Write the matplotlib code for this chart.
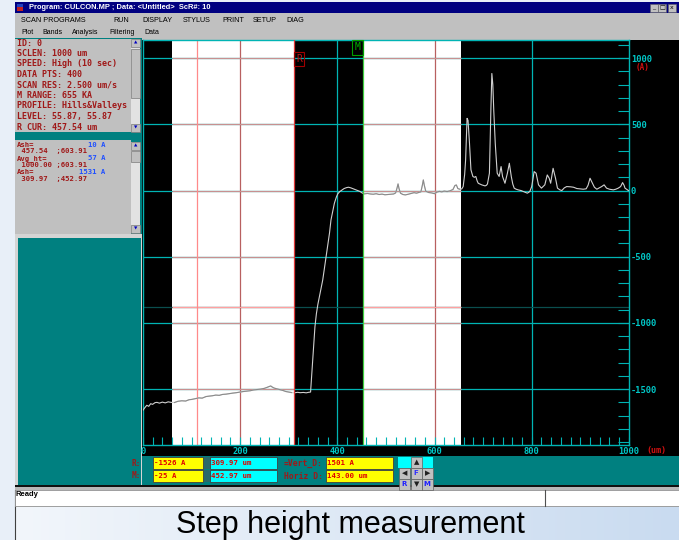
import numpy as np
import matplotlib.pyplot as plt
from matplotlib.patches import Rectangle
from matplotlib.colors import LinearSegmentedColormap
import matplotlib.transforms as mtransforms

W, H = 679, 540
MONO = "DejaVu Sans Mono"
SANS = "Liberation Sans"

# profile trace: scan position (um) and height (A)
scan_um = [0, 4, 8, 12, 16, 20, 25, 29, 34, 40, 46, 52, 58, 65, 72, 80, 88, 95,
           100, 108, 115, 122, 130, 136, 143, 150, 157, 164, 171, 178, 185, 192,
           200, 207, 214, 221, 228, 235, 242, 250, 256, 260, 263, 266, 270, 276,
           282, 288, 294, 300, 306, 312, 318, 324, 330, 336, 341, 345,
           348, 351, 354, 357, 360, 365, 370, 375, 380, 384, 387, 391, 394, 398,
           401, 405, 409, 414, 419, 423, 428, 433, 440, 446, 451, 456, 462, 468,
           474, 480, 486, 492, 498, 504, 510, 516, 520, 523, 525, 527, 530, 535,
           540, 546, 552, 558, 563, 568, 572, 575, 577, 579, 582, 588, 594, 600,
           605, 610, 615, 620, 626, 632, 638, 642, 645, 648, 652, 656, 659, 662,
           664, 667, 669, 672, 675, 679, 682, 685, 688, 690, 694, 697, 701, 704,
           707, 709, 713, 716, 718, 720, 722, 725, 729, 733, 737, 740, 745, 750,
           754, 758, 761, 764, 768, 772, 778, 783, 787, 791, 796, 800, 805, 809,
           814, 820, 827, 832, 836, 839, 844, 849, 853, 858, 862, 867, 872, 880,
           886, 893, 899, 906, 912, 916, 920, 925, 929, 934, 939, 944, 949, 954,
           960, 968, 973, 978, 983, 987, 990, 992, 996, 999]
height_A = [-1660, -1640, -1622, -1630, -1610, -1615, -1602, -1600, -1606, -1598,
            -1604, -1596, -1600, -1601, -1592, -1588, -1590, -1580, -1578, -1572,
            -1566, -1568, -1556, -1553, -1550, -1545, -1547, -1540, -1538, -1534,
            -1530, -1527, -1522, -1518, -1515, -1512, -1506, -1503, -1500, -1494,
            -1486, -1480, -1476, -1484, -1492, -1498, -1504, -1510, -1518, -1522,
            -1526, -1528, -1524, -1527, -1525, -1528, -1524, -1522,
            -1357, -1180, -1029, -930, -860, -770, -676, -550, -424, -320, -222,
            -150, -96, -50, -25, -8, 2, 15, 22, 25, 20, 13, 4, -6, -18, -25, -22,
            -26, -28, -24, -30, -27, -32, -30, -28, -26, -18, 20, 50, 15, -20, -30,
            -33, -28, -22, -16, -20, -14, -10, 40, 80, 40, -5, -15, -18, -24,
            -12, -6, -10, -4, -8, -2, 8, 38, 42, 15, 10, 12, 30, 120,
            231, 545, 530, 357, 156, 106, 100, 106, 70, 55, 48, 43, 38, 35,
            40, 50, 131, 608, 884, 800, 600, 357, 131, 106, 181, 106, 55, 131,
            206, 106, 50, 18, 10, 5, 0, -8, -14, -20, -8, 30, 143, 131,
            43, 18, 43, 118, 93, 55, 168, 93, 18, 5, 0, 20, 30, 28,
            25, 15, 13, 10, 13, 40, 93, 55, 25, 10, 20, 30, 43, 18,
            10, 5, 10, 18, 30, 60, 40, 18, 8, 0]

R_CUR = 309.97
M_CUR = 452.97
band_edges = [(60.7, R_CUR), (M_CUR, 654.0)]
band_mark_um = 110.5
level_mark_A = -877
x_major = [0, 200, 400, 600, 800, 1000]
x_grid = [200, 400, 600, 800]
y_grid = [-1500, -1000, -500, 0, 500, 1000]

info_lines = ["ID: 0", "SCLEN: 1000 um", "SPEED: High (10 sec)", "DATA PTS: 400",
              "SCAN RES: 2.500 um/s", "M RANGE: 655 KA", "PROFILE: Hills&Valleys",
              "LEVEL: 55.87, 55.87", "R CUR: 457.54 um"]
stat_names = ["Ash=", "Avg_ht=", "Ash="]
stat_values = ["10 A", "57 A", "1531 A"]
stat_ranges = [" 457.54  ;603.91", " 1000.00 ;603.91", " 309.97  ;452.97"]

menu_top = ["SCAN PROGRAMS", "RUN", "DISPLAY", "STYLUS", "PRINT", "SETUP", "DIAG"]
menu_top_x = [21, 113, 142, 183, 222, 253, 286]
menu_sub = ["Plot", "Bands", "Analysis", "Filtering", "Data"]
menu_sub_x = [21, 42, 72, 109, 144]

cursor_heights = ["-1526 A", "-25 A"]
cursor_positions = ["309.97 um", "452.97 um"]
delta_names = ["=Vert_D:", "Horiz D:"]
delta_values = ["1501 A", "143.00 um"]

CYAN = "#00b4b4"
CYAN_TXT = "#00c8c8"
XOR_RED = "#b86060"
PANEL_RED = "#a01818"

fig = plt.figure(figsize=(W / 100, H / 100), dpi=100)
fig.patch.set_facecolor("#e8eff8")
ui = fig.add_axes([0, 0, 1, 1])
ui.axis("off")


def box(x0, y0, x1, y1, fc, ec="none", lw=0.0, z=1):
    ui.add_patch(Rectangle((x0, y0), x1 - x0, y1 - y0, facecolor=fc,
                           edgecolor=ec, linewidth=lw, zorder=z))


# caption strip with a soft gradient
grad = LinearSegmentedColormap.from_list("slide", ["#f2f6fb", "#c9dbf0"])
ui.imshow(np.linspace(0, 1, 256)[None, :], cmap=grad, aspect="auto",
          extent=(15, W, 540, 506), zorder=0)
ui.set_xlim(0, W)
ui.set_ylim(H, 0)
ui.plot([15, 15], [490, 540], color="#404040", lw=0.8, zorder=2)
ui.text(350, 533.5, "Step height measurement", fontsize=22, family=SANS,
        ha="center", va="baseline", color="black", zorder=3)

# window frame
box(15, 2, W, 13, "#000080")
box(17, 4, 23, 11, "#c02020")
box(17, 4, 23, 7, "#2040c0")
ui.text(29, 7.8, "Program: CULCON.MP ; Data: <Untitled>  ScR#: 10", color="white",
        fontsize=5.4, family=SANS, fontweight="bold", va="center")
for bx, glyph in zip([650, 658, 668], ["_", "□", "x"]):
    box(bx, 4, bx + 8, 11.5, "#c0c0c0", ec="#606060", lw=0.4, z=2)
    ui.text(bx + 4, 7.6, glyph, fontsize=4.5, ha="center", va="center", zorder=3)
box(15, 13, W, 39.5, "#c0c0c0")
for label, mx in zip(menu_top, menu_top_x):
    ui.text(mx, 20.7, label, fontsize=5.2, family=SANS, va="center")
for label, mx in zip(menu_sub, menu_sub_x):
    ui.text(mx, 32.5, label, fontsize=5.0, family=SANS, va="center")
box(15, 37.5, 142.3, 490, "#008080")
box(142.3, 456, W, 490, "#008080")

# left info panels
box(15, 38.5, 131, 131.5, "#c0c0c0")
for i, line in enumerate(info_lines):
    ui.text(17.3, 43 + i * 10.5, line, color=PANEL_RED, fontsize=6.0, family=MONO,
            fontweight="bold", va="center", zorder=3)
box(15, 140, 131, 234, "#c0c0c0")
for i in range(len(stat_names)):
    ui.text(16.7, 144.6 + i * 13.6, stat_names[i], color=PANEL_RED, fontsize=5.2,
            family=MONO, fontweight="bold", va="center", zorder=3)
    ui.text(105, 144.6 + i * 13.6, stat_values[i], color="#2050ff", fontsize=5.2,
            family=MONO, fontweight="bold", va="center", ha="right", zorder=3)
    ui.text(16.7, 151.4 + i * 13.6, stat_ranges[i], color=PANEL_RED, fontsize=5.2,
            family=MONO, fontweight="bold", va="center", zorder=3)


def scrollbar(x0, x1, y0, y1, t0, t1):
    box(x0, y0, x1, y1, "#e2e2e2", z=5)
    for a, b in [(y0, y0 + 8), (y1 - 8, y1), (t0, t1)]:
        box(x0, a, x1, b, "#c0c0c0", ec="#7a7a7a", lw=0.5, z=5)
    ui.text((x0 + x1) / 2, y0 + 4, "▲", color="#0000c0", fontsize=3.2,
            ha="center", va="center", zorder=6)
    ui.text((x0 + x1) / 2, y1 - 4, "▼", color="#0000c0", fontsize=3.2,
            ha="center", va="center", zorder=6)


scrollbar(131, 140, 38.5, 131.5, 49, 98)
scrollbar(131, 140, 141.5, 233, 151, 162)

box(15, 234, 142, 487, "#d4d4d4")
box(18, 237.5, 140.5, 484.5, "#008080")

# black plotting canvas
box(142.3, 39.5, W, 456, "black", z=2)
ui.text(636, 67.5, "(A)", color="#d01010", fontsize=5.5, family=MONO,
        fontweight="bold", va="center", zorder=3)
ui.text(646, 450.5, "(um)", color="#d01010", fontsize=6.0, family=MONO,
        fontweight="bold", va="center", zorder=3)

# readout bar
ui.text(131.5, 463, "R:", color=PANEL_RED, fontsize=5.6, family=MONO,
        fontweight="bold", va="center", zorder=3)
ui.text(131.5, 476, "M:", color=PANEL_RED, fontsize=5.6, family=MONO,
        fontweight="bold", va="center", zorder=3)
for i in range(2):
    y0 = 456.7 + i * 13.3
    box(152.7, y0, 203.3, y0 + 12.3, "#ffff00", ec="#404040", lw=0.6, z=2)
    ui.text(154, y0 + 6.3, cursor_heights[i], color="#e00000", fontsize=5.3,
            family=MONO, fontweight="bold", va="center", zorder=3)
    box(204, y0, 209.5, y0 + 12.3, "#2a6a6a", z=2)
    box(210, y0, 276.7, y0 + 12.3, "#00ffff", ec="#404040", lw=0.6, z=2)
    ui.text(211, y0 + 6.3, cursor_positions[i], color="#e00000", fontsize=5.3,
            family=MONO, fontweight="bold", va="center", zorder=3)
    ui.text(284, y0 + 6.3, delta_names[i], color=PANEL_RED, fontsize=5.8,
            family=MONO, fontweight="bold", va="center", zorder=3)
    box(326, y0, 392.7, y0 + 12.3, "#ffff00", ec="#404040", lw=0.6, z=2)
    ui.text(327, y0 + 6.3, delta_values[i], color="#e00000", fontsize=5.3,
            family=MONO, fontweight="bold", va="center", zorder=3)

# arrow button cluster
box(398, 456.7, 433, 468, "#00ffff", z=2)
pad_cells = [(411, 457, "▲", "#202020"), (399, 468, "◀", "#202020"),
             (411, 468, "F", "#3030ff"), (422, 468, "▶", "#202020"),
             (399, 479, "R", "#2020ff"), (411, 479, "▼", "#202020"),
             (422, 479, "M", "#2020ff")]
for cx, cy, glyph, col in pad_cells:
    box(cx, cy, cx + 10.5, cy + 10.5, "#c0c0c0", ec="#606060", lw=0.5, z=6)
    ui.text(cx + 5.2, cy + 5.4, glyph, color=col, fontsize=5.0, ha="center",
            va="center", fontweight="bold", zorder=7)

# status line
box(15, 484.5, W, 487, "#101010", z=4)
box(15, 487, W, 490, "#b8b8b8", z=4)
box(15, 490, W, 506, "white", ec="#909090", lw=0.6, z=4)
ui.plot([544.6, 544.6], [490, 506], color="#505050", lw=0.8, zorder=5)
ui.text(16, 494.5, "Ready", fontsize=5.5, family=SANS, fontweight="bold",
        va="center", zorder=5)

# ---- profile plot ----
ax = fig.add_axes([142.9 / W, 1 - 445 / H, (628.9 - 142.9) / W, (445 - 40) / H])
ax.set_facecolor("black")
ax.set_xlim(0, 1000)
ax.set_ylim(-1922, 1137)
for sp in ax.spines.values():
    sp.set_color(CYAN)
    sp.set_linewidth(1.0)

for b0, b1 in band_edges:
    ax.axvspan(b0, b1, color="white", lw=0, zorder=0.5)

for gy in y_grid:
    ax.axhline(gy, color=CYAN, lw=0.9, zorder=1)
    for b0, b1 in band_edges:
        ax.hlines(gy, b0, b1, color="#c89090", lw=0.9, zorder=1.2)
for gx in x_grid:
    inside = any(b0 < gx < b1 for b0, b1 in band_edges)
    ax.axvline(gx, color=XOR_RED if inside else CYAN, lw=0.9, zorder=1)

ax.axhline(level_mark_A, color="#0a4e4e", lw=0.9, zorder=1)
for b0, b1 in band_edges:
    ax.hlines(level_mark_A, b0, b1, color="#ffa0a0", lw=0.9, zorder=1.3)
ax.axvline(band_mark_um, color="#ff8a8a", lw=0.9, zorder=1.3)

xs = np.array(scan_um, dtype=float)
ys = np.array(height_A, dtype=float)
ax.plot(xs, ys, color="#d0d0d0", lw=0.8, zorder=3)
for b0, b1 in band_edges:
    seg = (xs >= b0) & (xs <= b1)
    ax.plot(xs[seg], ys[seg], color="#8a8a8a", lw=0.8, zorder=3.1)

ax.axvline(R_CUR, color="#e03a3a", lw=0.9, zorder=4)
ax.axvline(M_CUR, color="#40d040", lw=0.9, zorder=4)
blend = mtransforms.blended_transform_factory(ax.transData, ax.transAxes)
ax.text(R_CUR + 5, 0.953, "R", transform=blend, color="#c01010", fontsize=7,
        family=MONO, ha="left", va="center", zorder=5,
        bbox=dict(boxstyle="square,pad=0.25", fc="none", ec="#a00000", lw=0.8))
ax.text(M_CUR - 5, 0.982, "M", transform=blend, color="#00b000", fontsize=7,
        family=MONO, ha="right", va="center", zorder=5,
        bbox=dict(boxstyle="square,pad=0.25", fc="none", ec="#00a000", lw=0.8))

x_minor = [v for v in range(20, 1000, 20) if v % 200]
ax.set_xticks(x_major)
ax.set_xticks(x_minor, minor=True)
ax.set_xticklabels([str(v) for v in x_major])
ax.tick_params(axis="x", which="both", direction="in", length=6, width=0.8,
               color=CYAN, pad=1.5, labelcolor=CYAN_TXT, labelsize=6.3)
for t, loc in zip(ax.xaxis.get_minor_ticks(len(x_minor)), x_minor):
    if any(b0 < loc < b1 for b0, b1 in band_edges):
        t.tick1line.set_color(XOR_RED)
for t, loc in zip(ax.xaxis.get_major_ticks(len(x_major)), x_major):
    if any(b0 < loc < b1 for b0, b1 in band_edges):
        t.tick1line.set_color(XOR_RED)

y_minor = [v for v in range(-1900, 1200, 100) if v % 500]
ax.yaxis.tick_right()
ax.set_yticks(y_grid)
ax.set_yticks(y_minor, minor=True)
ax.set_yticklabels([str(v) for v in y_grid])
ax.tick_params(axis="y", which="both", direction="in", length=8, width=0.8,
               color=CYAN, pad=1.5, labelcolor=CYAN_TXT, labelsize=6.3)
for lab in ax.get_xticklabels() + ax.get_yticklabels():
    lab.set_fontfamily(MONO)
    lab.set_fontweight("bold")

fig.savefig("out.png", dpi=100, facecolor=fig.get_facecolor())
